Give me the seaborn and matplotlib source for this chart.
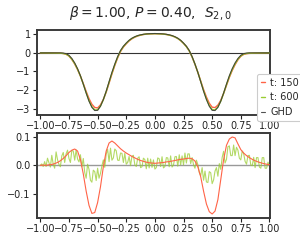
import numpy as np
import pandas as pd
import matplotlib
matplotlib.use("Agg")
import matplotlib.pyplot as plt
import seaborn as sns

# ---------------- data ----------------
x_grid = [round(-1.0 + 0.025 * k, 4) for k in range(81)]

ghd = [0.0, 0.0, 0.0, 0.0, 0.0, 0.0, 0.0, 0.0, -0.01, -0.04,
       -0.13, -0.30, -0.54, -0.85, -1.23, -1.68, -2.16, -2.60, -2.93, -3.10,
       -3.09, -2.87, -2.51, -2.06, -1.55, -1.05, -0.60, -0.20, 0.13, 0.36,
       0.53, 0.68, 0.79, 0.87, 0.93, 0.97, 1.00, 1.02, 1.03, 1.035,
       1.04,
       1.035, 1.03, 1.02, 1.00, 0.97, 0.93, 0.87, 0.79, 0.68, 0.53,
       0.36, 0.13, -0.20, -0.60, -1.05, -1.55, -2.06, -2.51, -2.87, -3.09,
       -3.10, -2.93, -2.60, -2.16, -1.68, -1.23, -0.85, -0.54, -0.30, -0.13,
       -0.04, -0.01, 0.0, 0.0, 0.0, 0.0, 0.0, 0.0, 0.0, 0.0]

t150 = [0.000, -0.001, 0.000, -0.002, -0.003, -0.006, -0.010, -0.016, -0.034, -0.074,
        -0.175, -0.353, -0.597, -0.900, -1.250, -1.650, -2.070, -2.460, -2.762, -2.935,
        -2.960, -2.795, -2.505, -2.110, -1.628, -1.135, -0.678, -0.268, 0.072, 0.310,
        0.487, 0.643, 0.759, 0.844, 0.909, 0.953, 0.986, 1.009, 1.021, 1.027,
        1.033,
        1.027, 1.021, 1.010, 0.988, 0.957, 0.915, 0.853, 0.771, 0.659, 0.508,
        0.336, 0.105, -0.223, -0.615, -1.045, -1.510, -1.970, -2.375, -2.708, -2.920,
        -2.940, -2.810, -2.550, -2.180, -1.750, -1.322, -0.949, -0.636, -0.375, -0.185,
        -0.083, -0.044, -0.027, -0.021, -0.016, -0.012, -0.009, -0.006, -0.004, -0.002]

t600 = [0.000, -0.002, -0.004, -0.006, -0.008, -0.010, -0.013, -0.017, -0.032, -0.068,
        -0.164, -0.338, -0.577, -0.880, -1.245, -1.677, -2.140, -2.568, -2.893, -3.065,
        -3.065, -2.860, -2.518, -2.085, -1.586, -1.090, -0.638, -0.233, 0.102, 0.336,
        0.510, 0.663, 0.776, 0.858, 0.920, 0.961, 0.992, 1.013, 1.023, 1.028,
        1.033,
        1.027, 1.021, 1.010, 0.989, 0.958, 0.917, 0.855, 0.774, 0.662, 0.510,
        0.338, 0.108, -0.218, -0.608, -1.045, -1.532, -2.030, -2.472, -2.828, -3.048,
        -3.065, -2.910, -2.600, -2.180, -1.717, -1.278, -0.902, -0.590, -0.343, -0.165,
        -0.068, -0.032, -0.017, -0.013, -0.010, -0.008, -0.006, -0.004, -0.002, 0.000]

diff150 = [0.000, 0.001, 0.000, 0.002, 0.003, 0.006, 0.010, 0.016, 0.024, 0.034,
           0.045, 0.053, 0.057, 0.050, 0.020, -0.030, -0.090, -0.140, -0.168, -0.165,
           -0.130, -0.075, -0.005, 0.050, 0.078, 0.085, 0.078, 0.068, 0.058, 0.050,
           0.043, 0.037, 0.031, 0.026, 0.021, 0.017, 0.014, 0.011, 0.009, 0.008,
           0.007,
           0.008, 0.009, 0.010, 0.012, 0.013, 0.015, 0.017, 0.019, 0.021, 0.022,
           0.024, 0.025, 0.023, 0.015, -0.005, -0.040, -0.090, -0.135, -0.162, -0.170,
           -0.160, -0.120, -0.050, 0.020, 0.070, 0.092, 0.099, 0.096, 0.075, 0.055,
           0.043, 0.034, 0.027, 0.021, 0.016, 0.012, 0.009, 0.006, 0.004, 0.002]

x_fine = [round(-1.0 + 0.0125 * k, 5) for k in range(161)]

diff600 = [0.000, 0.005, -0.004, 0.013, -0.004, 0.025, 0.010, -0.006, 0.035, 0.004,
           -0.010, 0.047, 0.020, 0.003, -0.005, 0.033, 0.045, 0.010, 0.040, 0.053,
           0.024, 0.010, 0.052, 0.050, 0.018, 0.054, 0.022, 0.012, 0.037, -0.005,
           0.024, -0.025, -0.045, 0.004, -0.014, -0.052, -0.059, -0.017, -0.022, -0.053,
           -0.010, -0.045, -0.028, -0.002, 0.019, -0.007, 0.039, 0.056, 0.013, 0.060,
           0.018, 0.026, 0.057, 0.051, 0.018, 0.017, 0.043, 0.042, 0.010, 0.042,
           0.004, 0.010, 0.031, -0.001, 0.032, 0.035, 0.002, -0.004, 0.025, 0.030,
           -0.008, -0.005, 0.025, 0.020, -0.012, 0.025, -0.009, 0.022, -0.007, 0.019,
           -0.013, -0.008, 0.026, 0.023, -0.004, 0.030, -0.009, -0.004, 0.027, 0.026,
           -0.005, 0.033, -0.006, 0.001, 0.030, 0.031, -0.003, 0.037, 0.002, 0.033,
           0.002, 0.043, 0.008, 0.040, 0.040, 0.006, 0.027, 0.002, -0.010, 0.018,
           0.003, -0.025, -0.036, -0.008, -0.052, -0.020, -0.058, -0.060, -0.022, -0.026,
           -0.064, -0.051, -0.020, -0.008, -0.038, 0.006, -0.014, 0.028, 0.049, 0.008,
           0.021, 0.065, 0.068, 0.034, 0.034, 0.071, 0.034, 0.063, 0.053, 0.025,
           0.019, 0.050, 0.041, 0.014, 0.004, 0.034, 0.035, 0.001, -0.001, 0.028,
           -0.008, 0.027, 0.027, -0.006, -0.010, 0.027, 0.027, -0.010, -0.010, 0.011,
           0.000]

labels = ["t: 150", "t: 600", "GHD"]
xticks = [-1.0, -0.75, -0.5, -0.25, 0.0, 0.25, 0.5, 0.75, 1.0]
title = r"$\beta = 1.00$, $P = 0.40$,  $S_{2,0}$"

# ---------------- styling ----------------
sns.set_theme(style="ticks")
plt.rcParams["font.family"] = ["DejaVu Sans"]
plt.rcParams["axes.unicode_minus"] = True

c150 = "#ff6347"
c600 = "#9acd32"
cghd = "#333333"

top_df = pd.DataFrame({"x": x_grid, "t150": t150, "t600": t600, "ghd": ghd})
bot_df = pd.DataFrame({"x": x_grid, "d150": diff150})
fine_df = pd.DataFrame({"x": x_fine, "d600": diff600})

fig = plt.figure(figsize=(3.0, 2.5), dpi=100)
ax1 = fig.add_axes([0.123, 0.54, 0.777, 0.34])
ax2 = fig.add_axes([0.123, 0.128, 0.777, 0.34])

ax1.axhline(0, color="#333333", lw=0.8, zorder=1)
sns.lineplot(data=top_df, x="x", y="t150", ax=ax1, color=c150, lw=1.0, label=labels[0], zorder=2)
sns.lineplot(data=top_df, x="x", y="t600", ax=ax1, color=c600, lw=1.0, label=labels[1], zorder=3)
sns.lineplot(data=top_df, x="x", y="ghd", ax=ax1, color=cghd, lw=0.8, alpha=0.85, label=labels[2], zorder=4)

ax2.axhline(0, color="#999999", lw=1.0, zorder=1)
sns.lineplot(data=fine_df, x="x", y="d600", ax=ax2, color=c600, lw=0.8, alpha=0.75, zorder=2)
sns.lineplot(data=bot_df, x="x", y="d150", ax=ax2, color=c150, lw=0.8, zorder=3)

for ax in (ax1, ax2):
    ax.set_xlim(-1.03, 1.005)
    ax.set_xticks(xticks)
    ax.set_xticklabels([f"{v:.2f}".replace("-", "\u2212") for v in xticks])
    ax.set_xlabel("")
    ax.set_ylabel("")
    ax.tick_params(labelsize=7, length=3, width=0.8, pad=1.5, colors="#222222")
    for s in ax.spines.values():
        s.set_color("#3a3a3a")
        s.set_linewidth(1.4)

ax1.set_ylim(-3.34, 1.23)
ax1.set_yticks([1, 0, -1, -2, -3])
ax2.set_ylim(-0.184, 0.113)
ax2.set_yticks([0.1, 0.0, -0.1])
ax2.set_yticklabels(["0.1", "0.0", "\u22120.1"])

handles, labs = ax1.get_legend_handles_labels()
ax1.get_legend().remove()
leg = fig.legend(handles, labs, loc="upper left", bbox_to_anchor=(0.84, 0.725),
                 fontsize=7, handlelength=0.4, handletextpad=0.6, borderpad=0.4,
                 labelspacing=0.5, frameon=True, framealpha=1.0)
leg.get_frame().set_edgecolor("#cccccc")
leg.get_frame().set_linewidth(0.8)

fig.suptitle(title, fontsize=10, y=0.985)

fig.savefig("out.png", dpi=100)
